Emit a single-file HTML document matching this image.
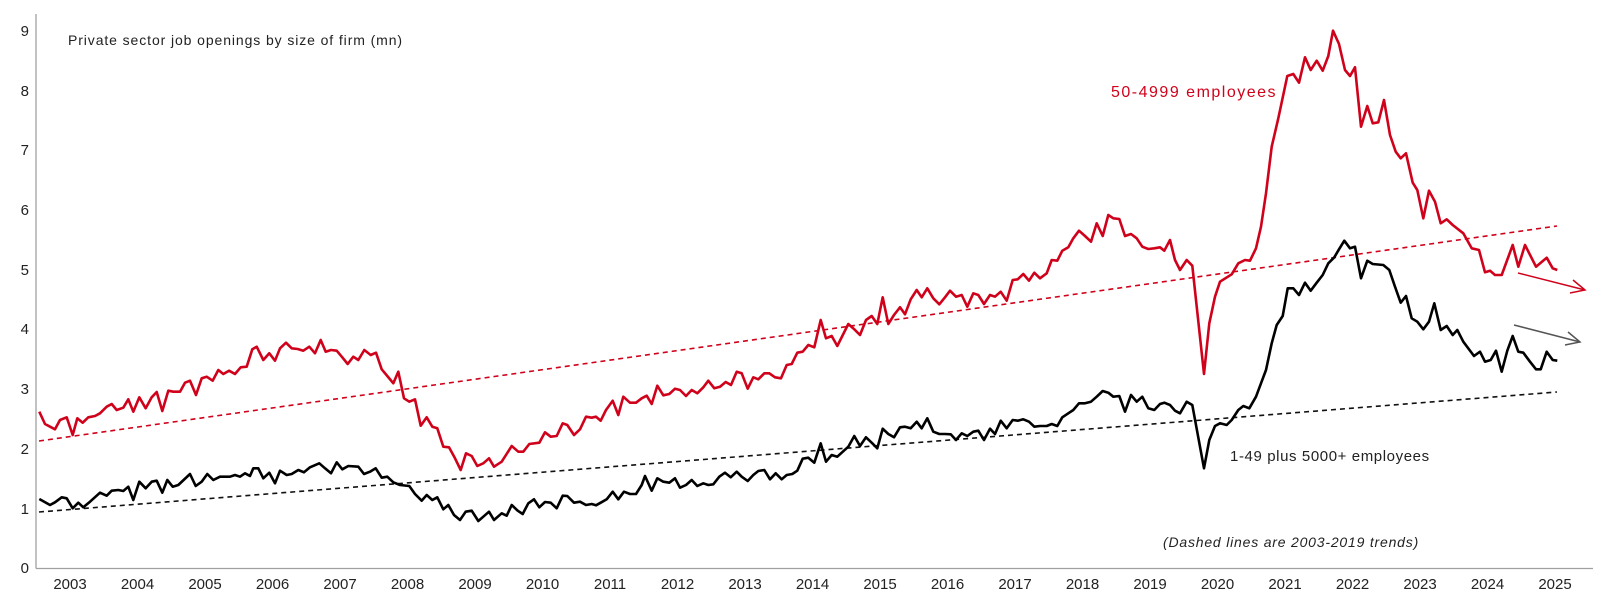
<!DOCTYPE html>
<html><head><meta charset="utf-8">
<style>
html,body{margin:0;padding:0;background:#fff;}
svg{display:block;font-family:"Liberation Sans",Arial,sans-serif;}
</style></head>
<body>
<svg id="c" width="1599" height="602" viewBox="0 0 1599 602" xmlns="http://www.w3.org/2000/svg">
<line x1="36" y1="14" x2="36" y2="568.5" stroke="#a0a0a0" stroke-width="1.3"/>
<line x1="36" y1="568.5" x2="1593" y2="568.5" stroke="#a0a0a0" stroke-width="1.3"/>
<g font-size="15" fill="#222" text-anchor="end">
<text x="29" y="573">0</text><text x="29" y="514">1</text><text x="29" y="454">2</text>
<text x="29" y="394">3</text><text x="29" y="334">4</text><text x="29" y="275">5</text>
<text x="29" y="215">6</text><text x="29" y="155">7</text><text x="29" y="96">8</text>
<text x="29" y="36">9</text>
</g>
<g id="xl" font-size="15" fill="#222" text-anchor="middle"></g>
<text x="68" y="45" font-size="14" letter-spacing="0.9" fill="#222">Private sector job openings by size of firm (mn)</text>
<text x="1111" y="97" font-size="16" letter-spacing="1.5" fill="#d0021b">50-4999 employees</text>
<text x="1230" y="461" font-size="15" letter-spacing="0.6" fill="#222">1-49 plus 5000+ employees</text>
<text x="1163" y="547" font-size="14" letter-spacing="0.8" fill="#222" font-style="italic">(Dashed lines are 2003-2019 trends)</text>
<line x1="39" y1="441" x2="1557" y2="226" stroke="#d0021b" stroke-width="1.6" stroke-dasharray="5,4"/>
<line x1="39" y1="512" x2="1557" y2="392" stroke="#111" stroke-width="1.6" stroke-dasharray="5,4"/>
<polyline id="red" fill="none" stroke="#d0021b" stroke-width="2.6" stroke-linejoin="round"/>
<polyline id="blk" fill="none" stroke="#000" stroke-width="2.6" stroke-linejoin="round"/>
<g stroke="#d0021b" stroke-width="1.5" fill="none">
<line x1="1518" y1="273" x2="1585" y2="290"/><polyline points="1573,280 1585,290 1570,293"/>
</g>
<g stroke="#555" stroke-width="1.5" fill="none">
<line x1="1514" y1="325" x2="1580" y2="342"/><polyline points="1568,332 1580,342 1565,345"/>
</g>
</svg>
<script>
function conv(ox,oy,arr){var r=[];for(var i=0;i<arr.length;i+=2){r.push([(ox+arr[i]/3).toFixed(1),(oy+arr[i+1]/3).toFixed(1)]);}return r;}
var R=[].concat(
conv(0,300,[118,335,135,372,165,388,180,360,200,352,218,405,232,355,248,368,265,352,285,348,300,340,320,320,335,312,350,330,370,323,385,298,400,335,418,292,437,325,455,292,470,276,487,333,505,272,520,275,540,275,555,248,570,242,588,285,605,235,620,230,638,242,655,210,670,222,687,212,705,222,722,202,740,200,757,148,770,140,790,180,808,160,825,182,840,145,858,128,875,145,893,147,910,152,928,140,945,160,962,120,977,155,993,150,1010,152,1027,172,1043,192,1060,170,1075,180,1093,150,1112,165,1128,158,1145,208,1162,228,1180,250,1195,215,1212,295,1228,305,1245,298,1262,377,1280,352,1297,380,1312,385,1330,440,1347,442,1365,475,1382,510,1398,460,1415,468,1432,498,1450,490,1467,475,1482,500]),
conv(480,270,[65,575,95,528,115,545,130,545,148,522,178,518,195,487,212,500,230,498,248,460,262,465,282,495,300,478,318,440,335,443,348,440,362,452,378,420,398,392,415,435,430,380,450,398,468,398,485,385,500,377,515,402,532,347,550,376,568,372,585,356,600,360,618,378,635,360,652,370,670,352,685,332,703,355,720,350,737,336,753,345,770,305,785,310,803,356,820,322,835,328,853,310,868,310,885,322,903,325,920,285,935,282,952,248,968,245,985,225,1003,232,1022,150,1038,205,1055,198,1072,228]),
conv(820,180,[85,432,103,448,120,465,138,420,155,408,172,432,188,352,205,432,222,405,240,382,255,403,272,358,290,330,305,352,322,325,340,355,358,373,375,352,390,332,408,350,425,345,442,380,460,340,475,345,492,372,510,345,525,350,542,335,560,362,578,300,593,298,610,282,627,302,643,278,660,295,680,280,695,240,712,242,727,212,745,202,760,175,777,152,795,168,813,185,830,130,848,168,865,105,880,115,898,117,915,168,933,162,950,175,967,200,985,207,1003,205,1020,202,1033,212,1050,180,1065,240]),
conv(1150,20,[90,750,110,720,127,737,162,1062,178,910,195,830,210,785,245,763,265,730,285,720,300,722,318,685,333,620,348,520,365,380,385,295,412,168,430,162,447,188,465,112,482,150,500,122,518,152,535,108,549,32,567,72,585,150,600,168,615,142,633,320,652,258,668,310,685,307,702,240,720,345,737,395,752,415,768,400,788,488,802,510,820,595,837,512,855,545,872,610,890,598,908,615,940,640,965,685,987,690,1005,757,1020,752,1035,765,1055,765,1088,675,1105,740,1125,675,1158,740,1190,713,1208,745,1222,750])
);
var B=[].concat(
conv(0,300,[118,597,150,615,165,607,185,592,200,595,218,625,235,608,250,622,270,605,300,578,320,587,335,572,355,570,370,573,385,560,400,600,418,545,437,565,455,545,470,542,487,578,502,540,518,560,535,555,570,522,587,558,605,545,622,522,640,540,660,530,690,530,705,525,720,530,735,520,750,528,760,505,775,505,790,535,808,518,825,550,840,512,860,525,875,522,895,510,912,517,930,502,958,490,975,505,993,520,1010,487,1027,508,1045,498,1075,500,1092,522,1110,515,1127,505,1145,533,1162,530,1180,547,1200,555,1228,558,1245,582,1265,602,1280,585,1297,600,1312,592,1330,628,1345,615,1362,645,1380,660,1397,635,1415,632,1435,663,1450,650,1467,635,1482,660]),
conv(480,270,[65,730,80,737,95,705,113,722,128,732,145,700,162,688,178,712,195,696,212,698,230,715,248,677,262,678,282,698,300,695,318,705,335,702,348,706,362,698,380,688,398,665,415,688,432,665,450,672,468,672,485,645,495,618,515,662,532,625,550,635,568,638,585,625,600,653,618,645,635,630,652,648,670,640,685,645,700,643,718,620,735,608,752,622,770,605,785,620,803,633,820,615,835,603,853,600,870,628,887,610,905,628,920,615,937,612,952,602,968,566,985,563,1003,578,1022,520,1038,575,1055,555,1072,560]),
conv(820,180,[85,800,103,768,120,798,138,772,155,788,172,805,188,746,205,762,222,772,240,742,255,740,272,745,290,725,305,745,322,715,340,755,358,762,375,762,392,763,408,780,425,760,442,768,460,755,475,752,492,780,510,746,525,762,542,722,560,745,578,720,593,722,610,718,627,725,643,740,660,738,680,738,695,732,712,738,727,712,745,700,760,690,777,670,795,670,813,665,830,650,848,633,865,638,880,650,898,648,915,695,933,645,950,665,967,650,985,685,1003,690,1020,672,1033,668,1050,675,1065,692]),
conv(1150,20,[90,1180,110,1145,127,1155,162,1345,178,1260,195,1218,210,1210,230,1215,245,1200,265,1170,280,1158,298,1165,318,1130,333,1090,348,1050,365,970,380,915,398,888,413,805,430,805,447,825,465,788,482,812,500,788,518,765,535,730,553,712,567,688,583,662,600,685,615,680,633,775,652,722,668,732,700,735,718,750,735,800,752,848,768,828,785,895,802,905,820,928,837,905,853,850,872,930,890,918,908,945,922,930,940,965,972,1008,990,995,1005,1025,1022,1020,1038,992,1055,1055,1072,992,1088,948,1105,995,1120,998,1140,1025,1158,1048,1172,1048,1190,995,1208,1020,1222,1022])
);
document.getElementById('red').setAttribute('points',R.map(function(p){return p.join(',')}).join(' '));
document.getElementById('blk').setAttribute('points',B.map(function(p){return p.join(',')}).join(' '));
var g=document.getElementById('xl'),s='';
for(var i=0;i<23;i++){s+='<text x="'+(70+67.5*i)+'" y="589">'+(2003+i)+'</text>';}
g.innerHTML=s;
</script>
</body></html>
